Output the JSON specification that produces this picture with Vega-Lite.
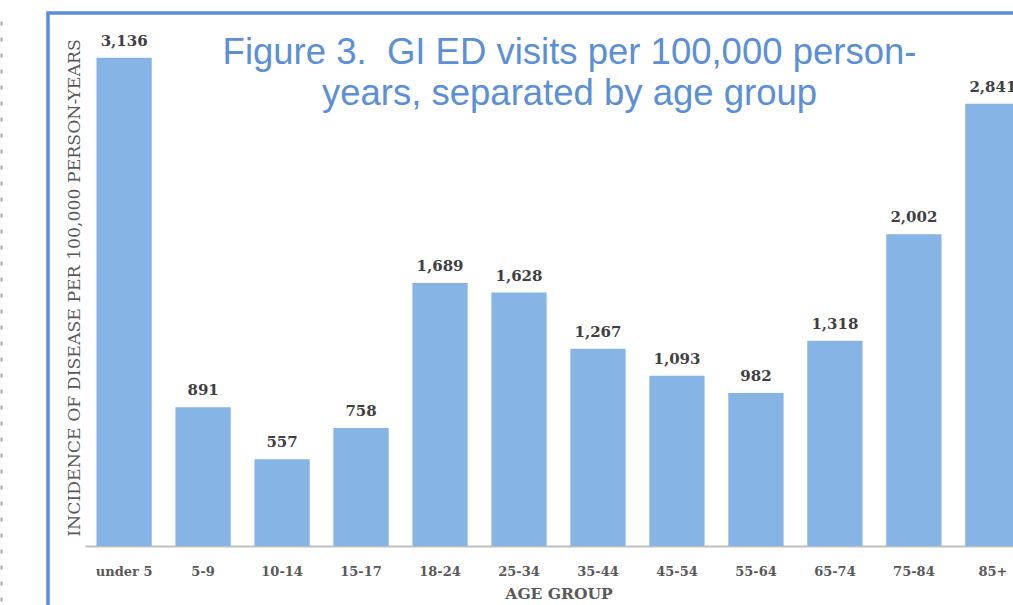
{
  "$schema": "https://vega.github.io/schema/vega-lite/v6.json",
  "autosize": {"type": "none"},
  "padding": {"left": 48, "top": 13, "right": 0, "bottom": 0},
  "width": 1021,
  "height": 620,
  "background": "white",
  "config": {
    "view": {"stroke": "#5a8fd6", "strokeWidth": 3.5}
  },
  "title": {
    "text": ["Figure 3.\u00a0 GI ED visits per 100,000 person-", "years, separated by age group"],
    "font": "Liberation Sans",
    "fontSize": 36.5,
    "fontWeight": "normal",
    "color": "#5b8fd6",
    "lineHeight": 41,
    "anchor": "middle",
    "frame": "group",
    "baseline": "alphabetic",
    "offset": 0,
    "dx": 11,
    "dy": 128
  },
  "data": {
    "values": [
      {"age": "under 5", "rate": 3136},
      {"age": "5-9", "rate": 891},
      {"age": "10-14", "rate": 557},
      {"age": "15-17", "rate": 758},
      {"age": "18-24", "rate": 1689},
      {"age": "25-34", "rate": 1628},
      {"age": "35-44", "rate": 1267},
      {"age": "45-54", "rate": 1093},
      {"age": "55-64", "rate": 982},
      {"age": "65-74", "rate": 1318},
      {"age": "75-84", "rate": 2002},
      {"age": "85+", "rate": 2841}
    ]
  },
  "encoding": {
    "x": {
      "field": "age",
      "type": "nominal",
      "sort": null,
      "scale": {"paddingInner": 0.3, "paddingOuter": 0.614, "round": false},
      "axis": {
        "orient": "bottom",
        "offset": -87,
        "domain": true,
        "domainColor": "#bfbfbf",
        "domainWidth": 2,
        "domainDash": [0, 37, 3000, 0],
        "ticks": false,
        "labelAngle": 0,
        "labelFont": "DejaVu Serif",
        "labelFontWeight": "bold",
        "labelFontSize": 13,
        "labelColor": "#595959",
        "labelBaseline": "alphabetic",
        "labelPadding": 29,
        "title": "AGE GROUP",
        "titleFont": "DejaVu Serif",
        "titleFontWeight": "bold",
        "titleFontSize": 15.5,
        "titleColor": "#595959",
        "titleBaseline": "alphabetic",
        "titleY": 52
      }
    },
    "y": {
      "field": "rate",
      "type": "quantitative",
      "scale": {"domain": [-558.8, 3423.3], "nice": false, "zero": false},
      "axis": {
        "orient": "left",
        "offset": 47,
        "domain": true,
        "domainColor": "#a6a6a6",
        "domainWidth": 2,
        "domainDash": [4, 12],
        "ticks": false,
        "labels": false,
        "grid": false,
        "title": "INCIDENCE OF DISEASE PER 100,000 PERSON-YEARS",
        "titleFont": "DejaVu Serif",
        "titleFontWeight": "normal",
        "titleFontSize": 17.3,
        "titleColor": "#595959",
        "titleAngle": 270,
        "titleAlign": "center",
        "titleBaseline": "alphabetic",
        "titleX": 78,
        "titleY": 274.5
      }
    }
  },
  "layer": [
    {
      "mark": {"type": "bar", "color": "#86b4e4"}
    },
    {
      "mark": {
        "type": "text",
        "baseline": "alphabetic",
        "dy": -12,
        "font": "DejaVu Serif",
        "fontWeight": "bold",
        "fontSize": 15,
        "color": "#404040"
      },
      "encoding": {
        "text": {"field": "rate", "type": "quantitative", "format": ","}
      }
    }
  ]
}
